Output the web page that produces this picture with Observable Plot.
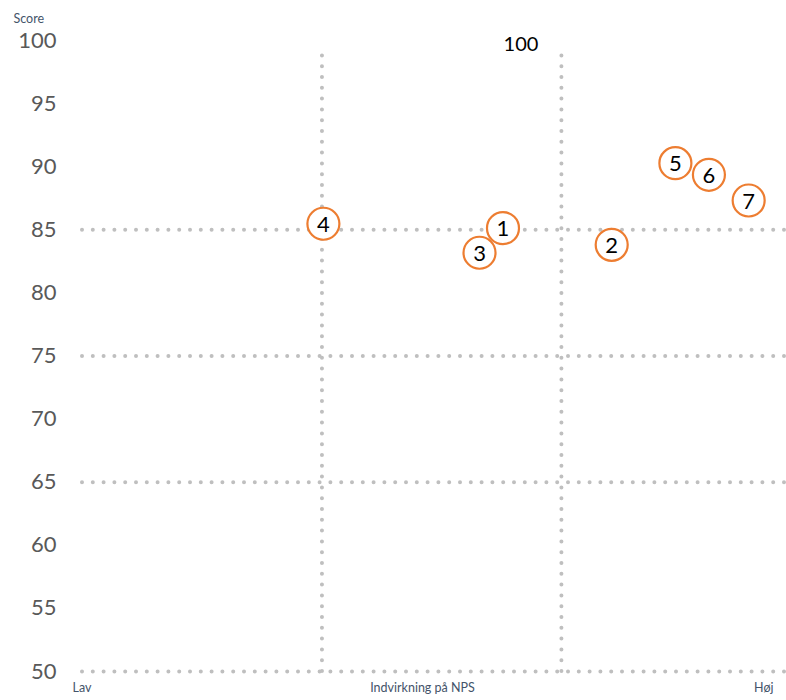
<!DOCTYPE html>
<html>
<head>
<meta charset="utf-8">
<script src="https://cdn.jsdelivr.net/npm/d3@7"></script>
<script src="https://cdn.jsdelivr.net/npm/@observablehq/plot@0.6"></script>
<style>
  body { margin: 0; background: #fff; }
  svg { font-family: Lato, "Open Sans", sans-serif; }
</style>
</head>
<body>
<div id="chart"></div>
<script>
const labels = ["1", "2", "3", "4", "5", "6", "7"];
const impact = [87.8, 110.5, 82.9, 50.3, 123.8, 130.8, 139.1];
const score = [85.13, 83.81, 83.18, 85.48, 90.28, 89.36, 87.32];
const yTicks = [50, 55, 60, 65, 70, 75, 80, 85, 90, 95, 100];
const hLines = [50, 65, 75, 85];
const vLines = [50, 100];

const data = labels.map((l, i) => ({label: l, x: impact[i], y: score[i]}));

const dotted = {stroke: "#bfbfbf", strokeWidth: 4, strokeDasharray: "0 10.8", strokeLinecap: "round"};

const chart = Plot.plot({
  width: 786,
  height: 700,
  marginLeft: 82,
  marginRight: 0,
  marginTop: 40,
  marginBottom: 29,
  x: {domain: [0, 147], axis: null},
  y: {domain: [50, 100], ticks: yTicks, tickSize: 0, tickPadding: 26, label: null},
  marks: [
    Plot.axisY({ticks: yTicks, tickSize: 0, tickPadding: 26, fontSize: 22, fill: "#595959", label: null}),
    Plot.ruleY(hLines, {...dotted}),
    Plot.ruleX(vLines, {y1: 50, y2: 99.6, ...dotted}),
    Plot.text(["100"], {x: 100, y: 100, text: d => d, textAnchor: "end", dx: -23, dy: 4, fontSize: 20, fill: "#000"}),
    Plot.dot(data, {x: "x", y: "y", r: 16, stroke: "#ED7D31", strokeWidth: 2.2, fill: "white"}),
    Plot.text(data, {x: "x", y: "y", text: "label", fontSize: 22, fill: "#000", dy: 1}),
    Plot.text(["Score"], {frameAnchor: "top-left", text: d => d, textAnchor: "start", dx: -69, dy: -26, fontSize: 12.5, fill: "#44546A"}),
    Plot.text(["Lav"], {frameAnchor: "bottom-left", text: d => d, textAnchor: "start", dx: -10, dy: 20, fontSize: 12.5, fill: "#44546A"}),
    Plot.text(["Indvirkning på NPS"], {frameAnchor: "bottom", text: d => d, dx: -12, dy: 20, fontSize: 12.5, fill: "#44546A"}),
    Plot.text(["Høj"], {frameAnchor: "bottom-right", text: d => d, textAnchor: "end", dx: -13, dy: 20, fontSize: 12.5, fill: "#44546A"})
  ]
});
document.getElementById("chart").appendChild(chart);
</script>
</body>
</html>
